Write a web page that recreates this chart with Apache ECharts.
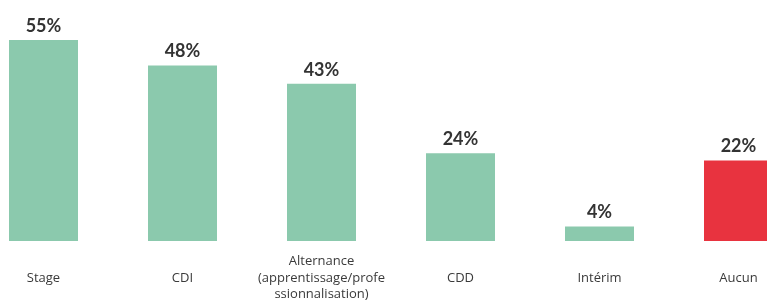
<!DOCTYPE html>
<html>
<head>
<meta charset="utf-8">
<script src="https://cdn.jsdelivr.net/npm/echarts@6/dist/echarts.min.js"></script>
<style>
  html, body { margin: 0; padding: 0; background: #fff; }
  #chart { width: 767px; height: 300px; }
</style>
</head>
<body>
<div id="chart"></div>
<script>
var categories = ["Stage", "CDI", "Alternance\n(apprentissage/profe\nssionnalisation)", "CDD", "Intérim", "Aucun"];
var values = [55, 48, 43, 24, 4, 22];
var barColors = ["#8bc9ad", "#8bc9ad", "#8bc9ad", "#8bc9ad", "#8bc9ad", "#e8333f"];

var chart = echarts.init(document.getElementById("chart"));
var option = {
  animation: false,
  grid: {
    left: -26,
    right: -41,
    top: 40,
    bottom: 59,
    containLabel: false,
    outerBoundsMode: "none"
  },
  xAxis: {
    type: "category",
    data: categories,
    axisLine: { show: false },
    axisTick: { show: false },
    axisLabel: {
      interval: 0,
      margin: 37,
      verticalAlign: "middle",
      lineHeight: 16.5,
      fontFamily: "Open Sans",
      fontSize: 13,
      color: "#3a3a3a"
    }
  },
  yAxis: {
    type: "value",
    min: 0,
    max: 55,
    show: false,
    splitLine: { show: false }
  },
  series: [
    {
      type: "bar",
      barWidth: 69,
      data: values.map(function (v, i) {
        return { value: v, itemStyle: { color: barColors[i] } };
      }),
      label: {
        show: true,
        position: "top",
        distance: 5,
        formatter: "{c}%",
        fontFamily: "Lato",
        fontWeight: "bold",
        fontSize: 18,
        color: "#333"
      }
    }
  ]
};
chart.setOption(option);
</script>
</body>
</html>
